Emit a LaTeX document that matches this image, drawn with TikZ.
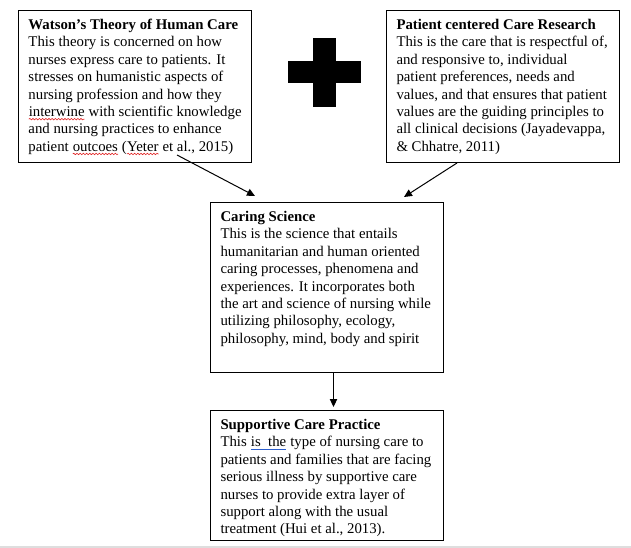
\documentclass[tikz,border=0pt]{standalone}
\usepackage{fontspec}
\setmainfont{Liberation Serif}
\usepackage{tikz}
\usetikzlibrary{positioning,calc}
\usetikzlibrary{arrows.meta,decorations.pathmorphing}
\definecolor{SpellRed}{RGB}{225,35,35}
\definecolor{SpellBlue}{RGB}{45,95,205}
\definecolor{PageGray}{RGB}{222,222,222}
\tikzset{
  card/.style={draw=black,line width=0.75pt,fill=white,anchor=north west,inner xsep=7.5pt,inner ysep=0pt},
  link/.style={draw=black,line width=0.75pt,-{Triangle[length=6pt,width=5.5pt]}},
  word/.style={inner sep=0pt,outer sep=0pt},
}
\tikzset{plus/.style={fill=black}, squiggle/.style={draw=SpellRed,line width=0.45pt,decorate,decoration={snake,amplitude=0.55pt,segment length=2.4pt}}, flagline/.style={draw=SpellBlue,line width=0.6pt}}
\newcommand{\spellwave}[1]{\tikz[baseline=(w.base)]{\node[word] (w) {#1}; \draw[squiggle] ([yshift=-2pt]w.base west) -- ([yshift=-2pt]w.base east);}}
\newcommand{\spellline}[1]{\tikz[baseline=(w.base)]{\node[word] (w) {#1}; \draw[flagline] ([yshift=-1.8pt]w.base west) -- ([yshift=-1.8pt]w.base east);}}
\newcommand{\cardtext}[2]{\parbox[c][#1][t]{159.75pt}{\fontsize{11.1pt}{13.05pt}\selectfont\raggedright\rightskip=0pt plus 1fil minus 8pt\rule{0pt}{14.25pt}#2}}

\begin{document}
\begin{tikzpicture}[x=0.75pt,y=-0.75pt]
\fill[white] (0,0) rectangle (631,548);
\useasboundingbox (0,0) rectangle (631,548);
\fill[PageGray] (0,545.5) rectangle (631,548);
\coordinate (plus) at (324.5,72.5);
\fill[plus] ($(plus)+(-11.5,-34.5)$) rectangle ($(plus)+(11.5,34.5)$);
\fill[plus] ($(plus)+(-36.5,-11.5)$) rectangle ($(plus)+(36.5,11)$);
\node[card] (watson) at (18,10) {\cardtext{114pt}{\textbf{Watson’s Theory of Human Care}\\
This theory is concerned on how\\
nurses express care to patients. It\\
stresses on humanistic aspects of\\
nursing profession and how they\\
\spellwave{interwine} with scientific knowledge\\
and nursing practices to enhance\\
patient \spellwave{outcoes} (\spellwave{Yeter} et al., 2015)}};
\node[card] (patient) at (386,10) {\cardtext{114pt}{\textbf{Patient centered Care Research}\\
This is the care that is respectful of,\\
and responsive to, individual\\
patient preferences, needs and\\
values, and that ensures that patient\\
values are the guiding principles to\\
all clinical decisions (Jayadevappa,\\
\& Chhatre, 2011)}};
\node[card] (caring) at (210,202) {\cardtext{127.5pt}{\textbf{Caring Science}\\
This is the science that entails\\
humanitarian and human oriented\\
caring processes, phenomena and\\
experiences. It incorporates both\\
the art and science of nursing while\\
utilizing philosophy, ecology,\\
philosophy, mind, body and spirit}};
\node[card] (support) at (210,410) {\cardtext{97.5pt}{\textbf{Supportive Care Practice}\\
This \spellline{is\ \ the} type of nursing care to\\
patients and families that are facing\\
serious illness by supportive care\\
nurses to provide extra layer of\\
support along with the usual\\
treatment (Hui et al., 2013).}};
\draw[link] ($(watson.south west)+(159,-8)$) -- ($(caring.north west)+(45,-6)$);
\draw[link] ($(patient.south west)+(71,0)$) -- ($(caring.north east)+(-40,-5)$);
\draw[link] ($(caring.south)+(6.5,0)$) -- ($(support.north)+(6.5,-3)$);
\end{tikzpicture}
\end{document}
